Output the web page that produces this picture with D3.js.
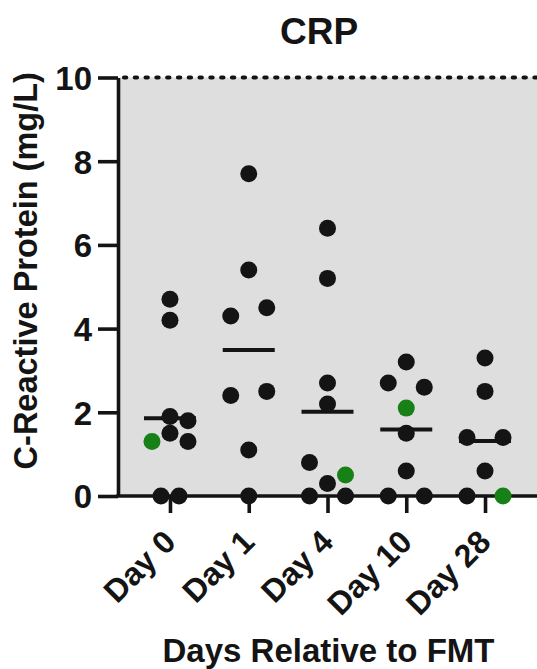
<!DOCTYPE html>
<html>
<head>
<meta charset="utf-8">
<script src="https://cdn.jsdelivr.net/npm/d3@7"></script>
<style>
  html, body { margin: 0; padding: 0; background: #ffffff; }
  svg { display: block; }
  text { font-family: "Liberation Sans", Arial, Helvetica, sans-serif; font-weight: bold; fill: #141414; }
</style>
</head>
<body>
<script>
// ---- data ----
const days = ["Day 0", "Day 1", "Day 4", "Day 10", "Day 28"];
const yTicks = [0, 2, 4, 6, 8, 10];

// CRP values (mg/L) for all patients except the highlighted one
const otherPatients = [
  [4.7, 4.2, 1.9, 1.8, 1.5, 1.3, 0, 0],
  [7.7, 5.4, 4.3, 4.5, 2.4, 2.5, 1.1, 0],
  [6.4, 5.2, 2.7, 2.2, 0.8, 0.3, 0, 0],
  [3.2, 2.7, 2.6, 1.5, 0.6, 0, 0],
  [3.3, 2.5, 1.4, 1.4, 0.6, 0]
];
// scatter lane of each point (as in the reference's column scatter)
const otherLanes = [
  [0, 0, 0, 1, 0, 1, -0.5, 0.5],
  [0, 0, -1, 1, -1, 1, 0, 0],
  [0, 0, 0, 0, -1, 0, -1, 1],
  [0, -1, 1, 0, 0, -1, 1],
  [0, 0, -1, 1, 0, -1]
];
// highlighted patient (green); no value on Day 1
const highlightPatient = [1.3, null, 0.5, 2.1, 0];
const highlightLanes = [-1, 0, 1, 0, 1];

// ---- layout ----
const W = 537, H = 669;
const plot = { left: 118, right: 537, top: 77.5, bottom: 496 };
const ink = "#141414", green = "#178017", bg = "#dedede";
const dotR = 8.5, laneW = 18, meanHalf = 26;

const svg = d3.select("body").append("svg").attr("width", W).attr("height", H);

const x = d3.scalePoint().domain(days).range([plot.left, plot.right]).padding(0.66);
const y = d3.scaleLinear().domain([0, 10]).range([plot.bottom, plot.top]);

// plot background
svg.append("rect")
  .attr("x", plot.left).attr("y", y(10))
  .attr("width", plot.right - plot.left).attr("height", y(0) - y(10))
  .attr("fill", bg);

// dotted line at top (upper limit)
svg.append("line")
  .attr("x1", plot.left + 6).attr("x2", plot.right)
  .attr("y1", y(10)).attr("y2", y(10))
  .attr("stroke", ink).attr("stroke-width", 4.2)
  .attr("stroke-linecap", "round")
  .attr("stroke-dasharray", "2.2,8.6");

// build points
const points = [];
days.forEach((d, i) => {
  otherPatients[i].forEach((v, j) => points.push({ day: d, v, lane: otherLanes[i][j], hl: false }));
  if (highlightPatient[i] !== null) points.push({ day: days[i], v: highlightPatient[i], lane: highlightLanes[i], hl: true });
});

// means
const means = days.map(d => ({ day: d, m: d3.mean(points.filter(p => p.day === d), p => p.v) }));

// y axis
const yAxis = svg.append("g")
  .attr("transform", `translate(${plot.left},0)`)
  .call(d3.axisLeft(y).tickValues(yTicks).tickFormat(d3.format("d")).tickSize(20).tickSizeOuter(0).tickPadding(6));
yAxis.select(".domain").attr("stroke", ink).attr("stroke-width", 3.6);
yAxis.selectAll(".tick line").attr("stroke", ink).attr("stroke-width", 3.6);
yAxis.selectAll(".tick text").style("font-size", "33px").attr("fill", ink).attr("dy", "0.36em");

// x axis
const xAxis = svg.append("g")
  .attr("transform", `translate(0,${plot.bottom})`)
  .call(d3.axisBottom(x).tickSize(17).tickSizeOuter(0).tickPadding(0));
xAxis.select(".domain").attr("stroke", ink).attr("stroke-width", 3.6)
  .attr("d", `M${plot.left - 1.8},0H${plot.right}`);
xAxis.selectAll(".tick line").attr("stroke", ink).attr("stroke-width", 3.6);
xAxis.selectAll(".tick text")
  .style("font-size", "32px").attr("fill", ink)
  .attr("text-anchor", "end")
  .attr("dy", null).attr("y", 0)
  .attr("transform", "translate(7,48) rotate(-45)");

// mean lines
svg.append("g").selectAll("line").data(means).join("line")
  .attr("x1", d => x(d.day) - meanHalf).attr("x2", d => x(d.day) + meanHalf)
  .attr("y1", d => y(d.m)).attr("y2", d => y(d.m))
  .attr("stroke", ink).attr("stroke-width", 4);

// dots
svg.append("g").selectAll("circle").data(points).join("circle")
  .attr("cx", d => x(d.day) + d.lane * laneW)
  .attr("cy", d => y(d.v))
  .attr("r", dotR)
  .attr("fill", d => d.hl ? green : ink);

// title
svg.append("text").attr("x", 319).attr("y", 44)
  .attr("text-anchor", "middle").style("font-size", "37px").text("CRP");

// y title
svg.append("text")
  .attr("transform", `translate(37,${(plot.top + plot.bottom) / 2 - 16}) rotate(-90)`)
  .attr("text-anchor", "middle").style("font-size", "32.5px")
  .text("C-Reactive Protein (mg/L)");

// x title
svg.append("text").attr("x", 328.5).attr("y", 661.5)
  .attr("text-anchor", "middle").style("font-size", "33px")
  .text("Days Relative to FMT");
</script>
</body>
</html>
